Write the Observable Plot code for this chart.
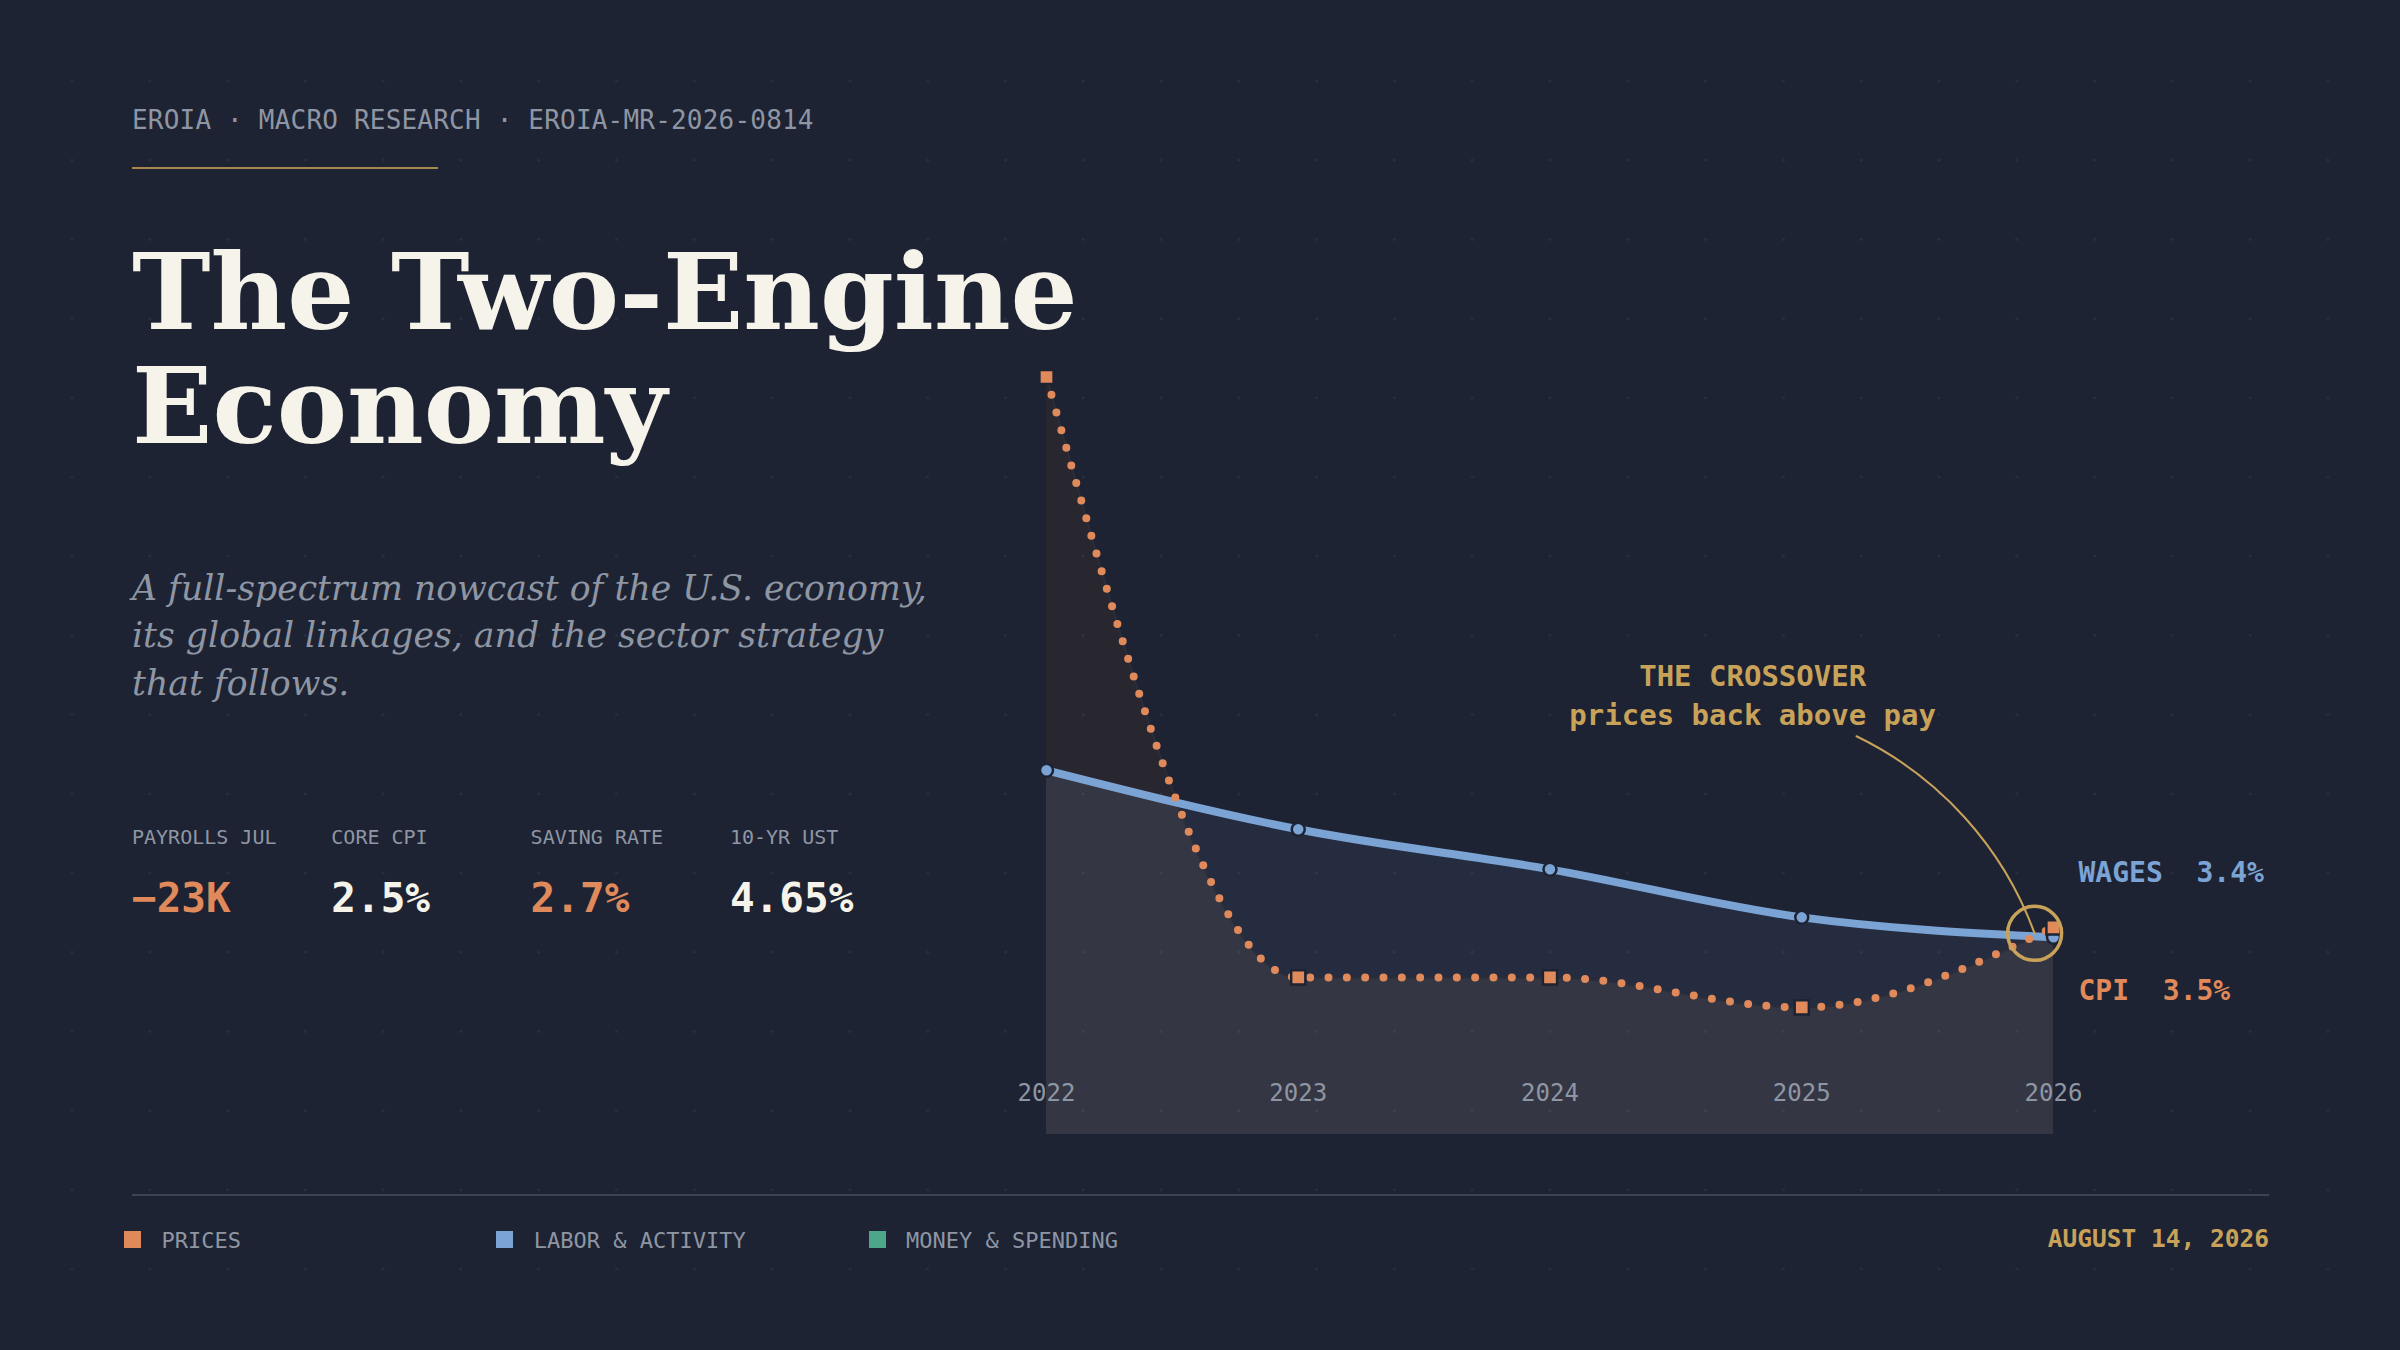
<!DOCTYPE html>
<html>
<head>
<meta charset="utf-8">
<script src="https://cdn.jsdelivr.net/npm/d3@7"></script>
<script src="https://cdn.jsdelivr.net/npm/@observablehq/plot@0.6"></script>
<style>
  html, body { margin: 0; padding: 0; background: #1d2333; }
  #page { position: relative; width: 2400px; height: 1350px; overflow: hidden; background: #1d2333; }
  .abs { position: absolute; white-space: pre; }
  #chart { position: absolute; left: 1000px; top: 330px; }
  #chart svg text { white-space: pre; }
  #grid { position: absolute; left: 0; top: 0; pointer-events: none; }
</style>
</head>
<body>
<div id="page"></div>
<script>
// ---------- data ----------
const years = [2022, 2023, 2024, 2025, 2026];
const xTickLabels = ["2022", "2023", "2024", "2025", "2026"];
const cpi = [9.0, 3.0, 3.0, 2.7, 3.5];
const wages = [5.07, 4.48, 4.08, 3.6, 3.4];
const yDomain = [1.43, 9.0];
const seriesNames = ["WAGES", "CPI"];
const crossover = { year: 2025.925, value: 3.44 };
const callout = { year: 2024.805, value: 5.84, fromYear: 2025.2175, fromValue: 5.41,
                  title: "THE CROSSOVER", sub: "prices back above pay" };
const headerText = "EROIA · MACRO RESEARCH · EROIA-MR-2026-0814";
const titleLines = ["The Two-Engine", "Economy"];
const subtitleLines = ["A full-spectrum nowcast of the U.S. economy,",
                       "its global linkages, and the sector strategy",
                       "that follows."];
const kpiLabels = ["PAYROLLS JUL", "CORE CPI", "SAVING RATE", "10-YR UST"];
const kpiValues = ["\u221223K", "2.5%", "2.7%", "4.65%"];
const kpiTone = ["warn", "neutral", "warn", "neutral"];
const legendItems = ["PRICES", "LABOR & ACTIVITY", "MONEY & SPENDING"];
const dateText = "AUGUST 14, 2026";

// ---------- palette ----------
const C = {
  bg: "#1d2333", orange: "#e0895a", blue: "#7ba3d4", green: "#4ea68a", gold: "#c9a25a",
  grey: "#8f96a3", white: "#f5f3ea", rule: "#3d4353",
  fillWarm: "#28272f", fillBlue: "#252c3f", fillGrey: "#343743", edge: "#2a2d3a"
};
const MONO = '"DejaVu Sans Mono", monospace';
const SERIF = '"DejaVu Serif", serif';

const page = document.getElementById("page");
function txt(str, o) {
  const d = document.createElement("div");
  d.className = "abs";
  d.textContent = str;
  d.style.fontSize = o.size + "px";
  d.style.lineHeight = o.size + "px";
  d.style.fontFamily = o.family || MONO;
  d.style.fontWeight = o.weight || "normal";
  d.style.fontStyle = o.style || "normal";
  d.style.color = o.color;
  if (o.ls) d.style.letterSpacing = o.ls + "px";
  d.style.top = (o.base - 0.846 * o.size) + "px";
  if (o.anchor === "end") d.style.right = (2400 - o.x) + "px";
  else d.style.left = o.x + "px";
  page.appendChild(d);
  return d;
}
function box(x, y, w, h, color) {
  const d = document.createElement("div");
  d.className = "abs";
  Object.assign(d.style, { left: x + "px", top: y + "px", width: w + "px", height: h + "px", background: color });
  page.appendChild(d);
}

// ---------- left panel ----------
txt(headerText, { x: 132, base: 128.5, size: 26, color: C.grey, ls: 0.2 });
box(132, 167, 306, 2, "#a8874c");
titleLines.forEach((t, i) => txt(t, { x: 132, base: 329 + i * 114.5, size: 105.5, family: SERIF, weight: "bold", color: C.white }));
subtitleLines.forEach((t, i) => txt(t, { x: 132, base: 600 + i * 47.5, size: 34.7, family: SERIF, style: "italic", color: C.grey }));
kpiLabels.forEach((t, i) => {
  txt(t, { x: 132 + i * 199.3, base: 844, size: 20, color: C.grey });
  txt(kpiValues[i], { x: 132 + i * 199.3, base: 913, size: 41, weight: "bold",
                      color: kpiTone[i] === "warn" ? C.orange : C.white });
});

// ---------- footer ----------
box(132, 1194, 2137, 2, C.rule);
const legendColors = [C.orange, C.blue, C.green];
legendItems.forEach((t, i) => {
  box(124 + i * 372.3, 1231, 17, 17, legendColors[i]);
  txt(t, { x: 161.5 + i * 372.3, base: 1248.5, size: 22, color: C.grey });
});
txt(dateText, { x: 2269, base: 1248, size: 24.5, weight: "bold", color: C.gold, anchor: "end" });

// ---------- chart ----------
const data = years.map((year, i) => ({ year, cpi: cpi[i], wages: wages[i] }));
const yFloor = yDomain[0];
const curve = "monotone-x";
const last = data[data.length - 1];
const labelStyle = { fontSize: 28, fontWeight: "bold", textAnchor: "start", dx: 25, fontFamily: MONO };

const chart = Plot.plot({
  width: 1360,
  height: 820,
  style: { background: "transparent", overflow: "visible", fontFamily: MONO },
  x: { domain: [2022, 2026], range: [46, 1053], axis: null },
  y: { domain: yDomain, range: [804, 46.5], axis: null },
  marks: [
    Plot.areaY(data, { x: "year", y1: yFloor, y2: "cpi", curve, fill: C.fillWarm }),
    Plot.areaY(data, { x: "year", y1: yFloor, y2: "wages", curve, fill: C.fillBlue }),
    Plot.areaY(data, { x: "year", y1: yFloor, y2: "wages", curve, fill: C.fillGrey }),
    Plot.text(years, { x: d => d, y: yFloor, text: (d, i) => xTickLabels[i], dy: -41, fill: C.grey, fontSize: 24, fontFamily: MONO }),
    Plot.line(data, { x: "year", y: "cpi", curve, stroke: C.edge, strokeWidth: 2 }),
    Plot.line(data, { x: "year", y: "wages", curve, stroke: C.blue, strokeWidth: 8 }),
    Plot.line(data, { x: "year", y: "cpi", curve, stroke: C.orange, strokeWidth: 8, strokeDasharray: "0 18.33", strokeLinecap: "round" }),
    Plot.dot(data, { x: "year", y: "wages", r: 6.5, fill: C.blue, stroke: C.bg, strokeWidth: 2.5 }),
    Plot.dot(data, { x: "year", y: "cpi", symbol: "square", r: 8, fill: C.orange, stroke: C.bg, strokeWidth: 2.5 }),
    Plot.arrow([callout], { x1: "fromYear", y1: "fromValue", x2: () => crossover.year, y2: () => crossover.value,
                            bend: 22, headLength: 0, stroke: C.gold, strokeWidth: 2 }),
    Plot.dot([crossover], { x: "year", y: "value", r: 27, stroke: C.gold, strokeWidth: 3.5, fill: "none" }),
    Plot.text([callout], { x: "year", y: "value", text: d => d.title + "\n" + d.sub, fill: C.gold, fontSize: 29,
                           fontWeight: "bold", lineHeight: 1.355, textAnchor: "middle", fontFamily: MONO }),
    Plot.text([last], { x: "year", y: "wages", text: d => `${seriesNames[0]}  ${d.wages}%`, fill: C.blue, dy: -64.5, ...labelStyle }),
    Plot.text([last], { x: "year", y: "cpi", text: d => `${seriesNames[1]}  ${d.cpi}%`, fill: C.orange, dy: 63.5, ...labelStyle })
  ]
});

// clip the "below both" fill (3rd area) to the region under CPI (1st area)
try {
  const svgEl = chart.tagName.toLowerCase() === "svg" ? chart : chart.querySelector("svg");
  const svg = d3.select(svgEl);
  const areaGroups = Array.from(svgEl.children).filter(g => g.tagName.toLowerCase() === "g" && g.querySelector("path"));
  const cpiArea = areaGroups[0], commonArea = areaGroups[2];
  const cpiPath = cpiArea.querySelector("path").getAttribute("d");
  const defs = svg.insert("defs", ":first-child");
  defs.append("clipPath").attr("id", "clip-cpi").append("path").attr("d", cpiPath);
  commonArea.setAttribute("clip-path", "url(#clip-cpi)");
} catch (e) { console.log("clip failed", e); }

const holder = document.createElement("div");
holder.id = "chart";
holder.appendChild(chart);
page.appendChild(holder);

// ---------- dot grid decoration ----------
const grid = d3.select(page).append("svg").attr("id", "grid").attr("width", 2400).attr("height", 1350);
for (let i = 0; i < 30; i++) {
  for (let j = 0; j < 16; j++) {
    grid.append("circle").attr("cx", 72 + i * 77.79).attr("cy", 81 + j * 79.2).attr("r", 1.6)
      .attr("fill", "#ffffff").attr("fill-opacity", 0.05);
  }
}
</script>
</body>
</html>
